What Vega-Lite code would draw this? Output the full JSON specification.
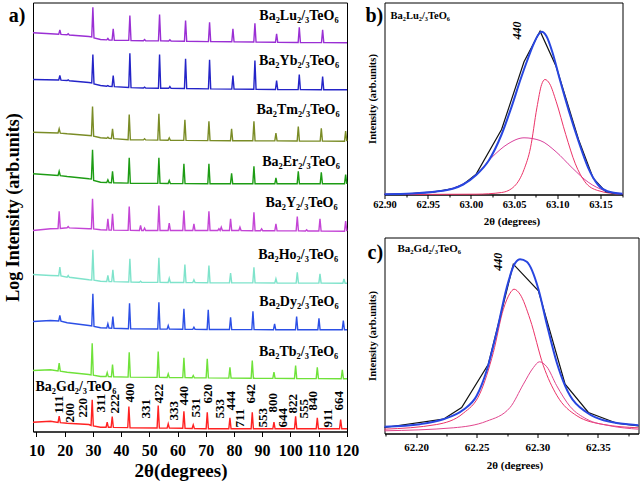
{
"$schema": "https://vega.github.io/schema/vega-lite/v6.json",
"padding": {"left": 4, "top": 1.5, "right": 2, "bottom": 2},
"bounds": "flush",
"spacing": 37.5,
"config": {
 "font": "Liberation Serif",
 "view": {"stroke": "#000", "strokeWidth": 1},
 "axis": {"labelFont": "Liberation Serif", "titleFont": "Liberation Serif", "labelFontWeight": "bold", "titleFontWeight": "bold", "labelColor": "#000", "titleColor": "#000", "domainColor": "#000", "tickColor": "#000", "grid": false, "labelOverlap": false, "labelFlush": false, "labelBound": false},
 "text": {"font": "Liberation Serif", "fontWeight": "bold", "color": "#000"}
},
"datasets": {
 "xrd": [
  {"s":"Lu","x":8.76,"y":398.7},{"s":"Lu","x":14.97,"y":397.7},{"s":"Lu","x":17.88,"y":397.2},{"s":"Lu","x":18.28,"y":401.7},{"s":"Lu","x":18.68,"y":397.1},{"s":"Lu","x":20.84,"y":396.7},{"s":"Lu","x":21.24,"y":397.7},{"s":"Lu","x":21.64,"y":396.5},{"s":"Lu","x":28.57,"y":395},{"s":"Lu","x":29.59,"y":394.5},{"s":"Lu","x":29.99,"y":424.3},{"s":"Lu","x":30.39,"y":393.5},{"s":"Lu","x":32.71,"y":392},{"s":"Lu","x":34.91,"y":391.6},{"s":"Lu","x":35.31,"y":393},{"s":"Lu","x":35.71,"y":391.5},{"s":"Lu","x":36.8,"y":391.4},{"s":"Lu","x":37.2,"y":402.7},{"s":"Lu","x":37.6,"y":391.3},{"s":"Lu","x":42.71,"y":391.1},{"s":"Lu","x":43.11,"y":416},{"s":"Lu","x":43.51,"y":391},{"s":"Lu","x":47.92,"y":390.8},{"s":"Lu","x":48.32,"y":392},{"s":"Lu","x":48.72,"y":390.8},{"s":"Lu","x":53.24,"y":390.6},{"s":"Lu","x":53.64,"y":417},{"s":"Lu","x":54.04,"y":390.6},{"s":"Lu","x":56.9,"y":390.5},{"s":"Lu","x":57.3,"y":391.7},{"s":"Lu","x":57.7,"y":390.5},{"s":"Lu","x":62.46,"y":390.2},{"s":"Lu","x":62.86,"y":411},{"s":"Lu","x":63.26,"y":390.2},{"s":"Lu","x":70.97,"y":389.9},{"s":"Lu","x":71.37,"y":409.3},{"s":"Lu","x":71.77,"y":389.9},{"s":"Lu","x":79.25,"y":389.7},{"s":"Lu","x":79.65,"y":402.7},{"s":"Lu","x":80.05,"y":389.7},{"s":"Lu","x":87.05,"y":389.5},{"s":"Lu","x":87.45,"y":408.3},{"s":"Lu","x":87.85,"y":389.5},{"s":"Lu","x":94.74,"y":389.2},{"s":"Lu","x":95.14,"y":397.7},{"s":"Lu","x":95.54,"y":389.2},{"s":"Lu","x":102.78,"y":389},{"s":"Lu","x":103.18,"y":404.3},{"s":"Lu","x":103.58,"y":389},{"s":"Lu","x":111.06,"y":388.9},{"s":"Lu","x":111.46,"y":401.7},{"s":"Lu","x":111.86,"y":388.9},{"s":"Lu","x":120.1,"y":388.7},
  {"s":"Yb","x":8.76,"y":352},{"s":"Yb","x":17.88,"y":351.5},{"s":"Yb","x":18.28,"y":356},{"s":"Yb","x":18.68,"y":351.4},{"s":"Yb","x":20.84,"y":351},{"s":"Yb","x":21.24,"y":351.7},{"s":"Yb","x":21.64,"y":350.8},{"s":"Yb","x":28.57,"y":349},{"s":"Yb","x":29.59,"y":348.5},{"s":"Yb","x":29.99,"y":377},{"s":"Yb","x":30.39,"y":347.5},{"s":"Yb","x":32.71,"y":346},{"s":"Yb","x":34.91,"y":345.3},{"s":"Yb","x":35.31,"y":346},{"s":"Yb","x":35.71,"y":345.1},{"s":"Yb","x":36.8,"y":345},{"s":"Yb","x":37.2,"y":356},{"s":"Yb","x":37.6,"y":344.9},{"s":"Yb","x":42.71,"y":344},{"s":"Yb","x":43.11,"y":378.3},{"s":"Yb","x":43.51,"y":343.9},{"s":"Yb","x":47.92,"y":343.5},{"s":"Yb","x":48.32,"y":344.3},{"s":"Yb","x":48.72,"y":343.5},{"s":"Yb","x":53.24,"y":343.3},{"s":"Yb","x":53.64,"y":377},{"s":"Yb","x":54.04,"y":343.3},{"s":"Yb","x":56.9,"y":343.2},{"s":"Yb","x":57.3,"y":345},{"s":"Yb","x":57.7,"y":343.2},{"s":"Yb","x":62.46,"y":343},{"s":"Yb","x":62.86,"y":372.7},{"s":"Yb","x":63.26,"y":343},{"s":"Yb","x":70.97,"y":342.6},{"s":"Yb","x":71.37,"y":371.7},{"s":"Yb","x":71.77,"y":342.6},{"s":"Yb","x":79.25,"y":342.4},{"s":"Yb","x":79.65,"y":356},{"s":"Yb","x":80.05,"y":342.4},{"s":"Yb","x":87.05,"y":342.2},{"s":"Yb","x":87.45,"y":371},{"s":"Yb","x":87.85,"y":342.2},{"s":"Yb","x":94.74,"y":342},{"s":"Yb","x":95.14,"y":351},{"s":"Yb","x":95.54,"y":342},{"s":"Yb","x":102.78,"y":341.9},{"s":"Yb","x":103.18,"y":357},{"s":"Yb","x":103.58,"y":341.9},{"s":"Yb","x":111.06,"y":341.8},{"s":"Yb","x":111.46,"y":355},{"s":"Yb","x":111.86,"y":341.8},{"s":"Yb","x":120.1,"y":341.7},
  {"s":"Tm","x":8.76,"y":299.3},{"s":"Tm","x":17.64,"y":298.5},{"s":"Tm","x":18.04,"y":302.7},{"s":"Tm","x":18.44,"y":298.4},{"s":"Tm","x":20.88,"y":297.7},{"s":"Tm","x":28.57,"y":296},{"s":"Tm","x":29.47,"y":295.7},{"s":"Tm","x":29.87,"y":325},{"s":"Tm","x":30.27,"y":295.3},{"s":"Tm","x":32.71,"y":293.7},{"s":"Tm","x":34.91,"y":293.3},{"s":"Tm","x":35.31,"y":294.3},{"s":"Tm","x":35.71,"y":293.2},{"s":"Tm","x":36.56,"y":293},{"s":"Tm","x":36.96,"y":302.7},{"s":"Tm","x":37.36,"y":292.9},{"s":"Tm","x":42.48,"y":291.8},{"s":"Tm","x":42.88,"y":317},{"s":"Tm","x":43.28,"y":291.8},{"s":"Tm","x":47.92,"y":291.6},{"s":"Tm","x":48.32,"y":292.7},{"s":"Tm","x":48.72,"y":291.6},{"s":"Tm","x":53.0,"y":291.4},{"s":"Tm","x":53.4,"y":317.7},{"s":"Tm","x":53.8,"y":291.4},{"s":"Tm","x":56.67,"y":291.3},{"s":"Tm","x":57.07,"y":293.7},{"s":"Tm","x":57.47,"y":291.3},{"s":"Tm","x":62.22,"y":291.1},{"s":"Tm","x":62.62,"y":311.7},{"s":"Tm","x":63.02,"y":291.1},{"s":"Tm","x":70.74,"y":290.9},{"s":"Tm","x":71.14,"y":310.3},{"s":"Tm","x":71.54,"y":290.9},{"s":"Tm","x":78.78,"y":290.8},{"s":"Tm","x":79.18,"y":302.7},{"s":"Tm","x":79.58,"y":290.8},{"s":"Tm","x":86.7,"y":290.7},{"s":"Tm","x":87.1,"y":310.3},{"s":"Tm","x":87.5,"y":290.7},{"s":"Tm","x":94.5,"y":290.6},{"s":"Tm","x":94.9,"y":298.3},{"s":"Tm","x":95.3,"y":290.6},{"s":"Tm","x":102.43,"y":290.5},{"s":"Tm","x":102.83,"y":305},{"s":"Tm","x":103.23,"y":290.5},{"s":"Tm","x":110.59,"y":290.4},{"s":"Tm","x":110.99,"y":303.3},{"s":"Tm","x":111.39,"y":290.4},{"s":"Tm","x":119.22,"y":290.3},{"s":"Tm","x":119.62,"y":300.3},{"s":"Tm","x":120.02,"y":290.3},
  {"s":"Er","x":8.76,"y":257.7},{"s":"Er","x":17.64,"y":256},{"s":"Er","x":18.04,"y":260.3},{"s":"Er","x":18.44,"y":255.9},{"s":"Er","x":20.88,"y":255},{"s":"Er","x":28.57,"y":252.7},{"s":"Er","x":29.47,"y":252.5},{"s":"Er","x":29.87,"y":281.7},{"s":"Er","x":30.27,"y":251},{"s":"Er","x":32.71,"y":249.3},{"s":"Er","x":34.91,"y":249},{"s":"Er","x":35.31,"y":251.7},{"s":"Er","x":35.71,"y":248.9},{"s":"Er","x":36.56,"y":248.8},{"s":"Er","x":36.96,"y":260.3},{"s":"Er","x":37.36,"y":248.7},{"s":"Er","x":42.48,"y":248.4},{"s":"Er","x":42.88,"y":273.7},{"s":"Er","x":43.28,"y":248.3},{"s":"Er","x":53.0,"y":248.1},{"s":"Er","x":53.4,"y":273.7},{"s":"Er","x":53.8,"y":248.1},{"s":"Er","x":56.67,"y":248},{"s":"Er","x":57.07,"y":251},{"s":"Er","x":57.47,"y":248},{"s":"Er","x":61.87,"y":247.9},{"s":"Er","x":62.27,"y":267.7},{"s":"Er","x":62.67,"y":247.9},{"s":"Er","x":70.74,"y":247.7},{"s":"Er","x":71.14,"y":267.7},{"s":"Er","x":71.54,"y":247.7},{"s":"Er","x":78.78,"y":247.7},{"s":"Er","x":79.18,"y":258.3},{"s":"Er","x":79.58,"y":247.7},{"s":"Er","x":86.7,"y":247.7},{"s":"Er","x":87.1,"y":265.3},{"s":"Er","x":87.5,"y":247.7},{"s":"Er","x":94.5,"y":247.7},{"s":"Er","x":94.9,"y":253.7},{"s":"Er","x":95.3,"y":247.7},{"s":"Er","x":102.43,"y":247.7},{"s":"Er","x":102.83,"y":260.3},{"s":"Er","x":103.23,"y":247.7},{"s":"Er","x":110.59,"y":247.7},{"s":"Er","x":110.99,"y":259.3},{"s":"Er","x":111.39,"y":247.7},{"s":"Er","x":119.22,"y":247.7},{"s":"Er","x":119.62,"y":257},{"s":"Er","x":120.02,"y":247.7},
  {"s":"Y","x":8.76,"y":201},{"s":"Y","x":14.97,"y":202.7},{"s":"Y","x":17.64,"y":203},{"s":"Y","x":18.04,"y":220.3},{"s":"Y","x":18.44,"y":203.1},{"s":"Y","x":20.84,"y":203.7},{"s":"Y","x":21.24,"y":205},{"s":"Y","x":21.64,"y":203.6},{"s":"Y","x":28.57,"y":202.7},{"s":"Y","x":29.47,"y":202.7},{"s":"Y","x":29.87,"y":232.7},{"s":"Y","x":30.27,"y":202.6},{"s":"Y","x":32.71,"y":201.7},{"s":"Y","x":34.91,"y":201.5},{"s":"Y","x":35.31,"y":212.7},{"s":"Y","x":35.71,"y":201.5},{"s":"Y","x":36.56,"y":201.4},{"s":"Y","x":36.96,"y":217.7},{"s":"Y","x":37.36,"y":201.4},{"s":"Y","x":42.48,"y":201.1},{"s":"Y","x":42.88,"y":225},{"s":"Y","x":43.28,"y":201.1},{"s":"Y","x":46.5,"y":201},{"s":"Y","x":46.9,"y":206},{"s":"Y","x":47.3,"y":201},{"s":"Y","x":47.92,"y":201},{"s":"Y","x":48.32,"y":203.3},{"s":"Y","x":48.72,"y":201},{"s":"Y","x":53.0,"y":201},{"s":"Y","x":53.4,"y":226},{"s":"Y","x":53.8,"y":201},{"s":"Y","x":56.67,"y":201},{"s":"Y","x":57.07,"y":208.3},{"s":"Y","x":57.47,"y":201},{"s":"Y","x":61.87,"y":201},{"s":"Y","x":62.27,"y":221},{"s":"Y","x":62.67,"y":201},{"s":"Y","x":65.42,"y":201},{"s":"Y","x":65.82,"y":207.7},{"s":"Y","x":66.22,"y":201},{"s":"Y","x":70.74,"y":201},{"s":"Y","x":71.14,"y":220.3},{"s":"Y","x":71.54,"y":201},{"s":"Y","x":74.29,"y":201},{"s":"Y","x":74.69,"y":202.7},{"s":"Y","x":75.1,"y":201},{"s":"Y","x":75.52,"y":204.3},{"s":"Y","x":75.92,"y":201},{"s":"Y","x":78.42,"y":201},{"s":"Y","x":78.82,"y":212.7},{"s":"Y","x":79.22,"y":201},{"s":"Y","x":81.74,"y":201},{"s":"Y","x":82.14,"y":204.3},{"s":"Y","x":82.54,"y":201},{"s":"Y","x":86.7,"y":200.8},{"s":"Y","x":87.1,"y":219.3},{"s":"Y","x":87.5,"y":200.8},{"s":"Y","x":89.42,"y":200.8},{"s":"Y","x":89.82,"y":202.7},{"s":"Y","x":90.22,"y":200.8},{"s":"Y","x":94.5,"y":200.7},{"s":"Y","x":94.9,"y":207.7},{"s":"Y","x":95.3,"y":200.7},{"s":"Y","x":102.07,"y":200.6},{"s":"Y","x":102.47,"y":215},{"s":"Y","x":102.87,"y":200.6},{"s":"Y","x":105.39,"y":200.5},{"s":"Y","x":105.79,"y":201.7},{"s":"Y","x":106.19,"y":200.5},{"s":"Y","x":110.12,"y":200.5},{"s":"Y","x":110.52,"y":212.7},{"s":"Y","x":110.92,"y":200.5},{"s":"Y","x":119.22,"y":200.3},{"s":"Y","x":119.62,"y":210.3},{"s":"Y","x":120.02,"y":200.3},
  {"s":"Ho","x":8.76,"y":157},{"s":"Ho","x":14.97,"y":156},{"s":"Ho","x":17.88,"y":155.7},{"s":"Ho","x":18.28,"y":164.3},{"s":"Ho","x":18.68,"y":155.6},{"s":"Ho","x":20.84,"y":154.3},{"s":"Ho","x":21.24,"y":156},{"s":"Ho","x":21.64,"y":154.2},{"s":"Ho","x":28.57,"y":151.7},{"s":"Ho","x":29.59,"y":151.5},{"s":"Ho","x":29.99,"y":181.7},{"s":"Ho","x":30.39,"y":151.3},{"s":"Ho","x":32.71,"y":150.3},{"s":"Ho","x":34.91,"y":150},{"s":"Ho","x":35.31,"y":156},{"s":"Ho","x":35.71,"y":150},{"s":"Ho","x":36.68,"y":149.9},{"s":"Ho","x":37.08,"y":161.7},{"s":"Ho","x":37.48,"y":149.9},{"s":"Ho","x":42.71,"y":149.5},{"s":"Ho","x":43.11,"y":172.7},{"s":"Ho","x":43.51,"y":149.4},{"s":"Ho","x":46.5,"y":149.3},{"s":"Ho","x":46.9,"y":150.3},{"s":"Ho","x":47.3,"y":149.3},{"s":"Ho","x":53.0,"y":149.1},{"s":"Ho","x":53.4,"y":173.7},{"s":"Ho","x":53.8,"y":149.1},{"s":"Ho","x":56.67,"y":149},{"s":"Ho","x":57.07,"y":153.3},{"s":"Ho","x":57.47,"y":149},{"s":"Ho","x":62.22,"y":149},{"s":"Ho","x":62.62,"y":167},{"s":"Ho","x":63.02,"y":149},{"s":"Ho","x":65.42,"y":148.9},{"s":"Ho","x":65.82,"y":151.7},{"s":"Ho","x":66.22,"y":148.9},{"s":"Ho","x":70.74,"y":148.7},{"s":"Ho","x":71.14,"y":166},{"s":"Ho","x":71.54,"y":148.7},{"s":"Ho","x":78.42,"y":148.6},{"s":"Ho","x":78.82,"y":158.3},{"s":"Ho","x":79.22,"y":148.6},{"s":"Ho","x":86.7,"y":148.6},{"s":"Ho","x":87.1,"y":164.3},{"s":"Ho","x":87.5,"y":148.6},{"s":"Ho","x":94.5,"y":148.5},{"s":"Ho","x":94.9,"y":152.7},{"s":"Ho","x":95.3,"y":148.5},{"s":"Ho","x":102.07,"y":148.4},{"s":"Ho","x":102.47,"y":159.3},{"s":"Ho","x":102.87,"y":148.4},{"s":"Ho","x":110.12,"y":148.4},{"s":"Ho","x":110.52,"y":157.7},{"s":"Ho","x":110.92,"y":148.4},{"s":"Ho","x":118.63,"y":148.3},{"s":"Ho","x":119.03,"y":152.7},{"s":"Ho","x":119.43,"y":148.3},{"s":"Ho","x":120.1,"y":148.3},
  {"s":"Dy","x":8.76,"y":110},{"s":"Dy","x":14.97,"y":111},{"s":"Dy","x":17.88,"y":110.5},{"s":"Dy","x":18.28,"y":116},{"s":"Dy","x":18.68,"y":110.3},{"s":"Dy","x":20.88,"y":108.7},{"s":"Dy","x":28.57,"y":106},{"s":"Dy","x":29.59,"y":105.5},{"s":"Dy","x":29.99,"y":137.7},{"s":"Dy","x":30.39,"y":105},{"s":"Dy","x":32.71,"y":103.7},{"s":"Dy","x":34.91,"y":103.5},{"s":"Dy","x":35.31,"y":107.7},{"s":"Dy","x":35.71,"y":103.4},{"s":"Dy","x":36.68,"y":103.3},{"s":"Dy","x":37.08,"y":115},{"s":"Dy","x":37.48,"y":103.2},{"s":"Dy","x":42.59,"y":102.8},{"s":"Dy","x":42.99,"y":128.3},{"s":"Dy","x":43.39,"y":102.8},{"s":"Dy","x":53.0,"y":102.5},{"s":"Dy","x":53.4,"y":129.3},{"s":"Dy","x":53.8,"y":102.5},{"s":"Dy","x":56.31,"y":102.4},{"s":"Dy","x":56.71,"y":106},{"s":"Dy","x":57.11,"y":102.4},{"s":"Dy","x":61.87,"y":102.2},{"s":"Dy","x":62.27,"y":122.7},{"s":"Dy","x":62.67,"y":102.2},{"s":"Dy","x":65.42,"y":102.1},{"s":"Dy","x":65.82,"y":104.3},{"s":"Dy","x":66.22,"y":102.1},{"s":"Dy","x":70.5,"y":102},{"s":"Dy","x":70.9,"y":121.7},{"s":"Dy","x":71.3,"y":102},{"s":"Dy","x":78.42,"y":102},{"s":"Dy","x":78.82,"y":114.3},{"s":"Dy","x":79.22,"y":102},{"s":"Dy","x":86.35,"y":101.9},{"s":"Dy","x":86.75,"y":120.3},{"s":"Dy","x":87.15,"y":101.9},{"s":"Dy","x":94.03,"y":101.8},{"s":"Dy","x":94.43,"y":107.7},{"s":"Dy","x":94.83,"y":101.8},{"s":"Dy","x":101.84,"y":101.8},{"s":"Dy","x":102.24,"y":115},{"s":"Dy","x":102.64,"y":101.8},{"s":"Dy","x":109.76,"y":101.7},{"s":"Dy","x":110.16,"y":113.3},{"s":"Dy","x":110.56,"y":101.7},{"s":"Dy","x":118.4,"y":101.7},{"s":"Dy","x":118.8,"y":111},{"s":"Dy","x":119.2,"y":101.7},{"s":"Dy","x":120.1,"y":101.7},
  {"s":"Tb","x":8.76,"y":61},{"s":"Tb","x":14.97,"y":61.7},{"s":"Tb","x":17.64,"y":60.5},{"s":"Tb","x":18.04,"y":68.3},{"s":"Tb","x":18.44,"y":60.3},{"s":"Tb","x":20.88,"y":59.3},{"s":"Tb","x":28.57,"y":57},{"s":"Tb","x":29.35,"y":56.5},{"s":"Tb","x":29.75,"y":88.3},{"s":"Tb","x":30.15,"y":56.3},{"s":"Tb","x":32.71,"y":55},{"s":"Tb","x":34.67,"y":55},{"s":"Tb","x":35.07,"y":59},{"s":"Tb","x":35.47,"y":54.9},{"s":"Tb","x":36.56,"y":54.8},{"s":"Tb","x":36.96,"y":67},{"s":"Tb","x":37.36,"y":54.7},{"s":"Tb","x":42.48,"y":54.4},{"s":"Tb","x":42.88,"y":79.3},{"s":"Tb","x":43.28,"y":54.4},{"s":"Tb","x":52.76,"y":54.1},{"s":"Tb","x":53.16,"y":80},{"s":"Tb","x":53.56,"y":54.1},{"s":"Tb","x":56.31,"y":54},{"s":"Tb","x":56.71,"y":57.7},{"s":"Tb","x":57.11,"y":54},{"s":"Tb","x":61.87,"y":53.9},{"s":"Tb","x":62.27,"y":73.7},{"s":"Tb","x":62.67,"y":53.9},{"s":"Tb","x":65.18,"y":53.8},{"s":"Tb","x":65.58,"y":56},{"s":"Tb","x":65.98,"y":53.8},{"s":"Tb","x":70.15,"y":53.6},{"s":"Tb","x":70.55,"y":72.7},{"s":"Tb","x":70.95,"y":53.6},{"s":"Tb","x":78.19,"y":53.4},{"s":"Tb","x":78.59,"y":64.3},{"s":"Tb","x":78.99,"y":53.4},{"s":"Tb","x":86.11,"y":53.3},{"s":"Tb","x":86.51,"y":71},{"s":"Tb","x":86.91,"y":53.3},{"s":"Tb","x":93.8,"y":53.1},{"s":"Tb","x":94.2,"y":59.3},{"s":"Tb","x":94.6,"y":53.1},{"s":"Tb","x":101.48,"y":53},{"s":"Tb","x":101.88,"y":66},{"s":"Tb","x":102.28,"y":53},{"s":"Tb","x":109.17,"y":52.9},{"s":"Tb","x":109.57,"y":64.3},{"s":"Tb","x":109.97,"y":52.9},{"s":"Tb","x":118.04,"y":52.7},{"s":"Tb","x":118.44,"y":61.7},{"s":"Tb","x":118.84,"y":52.7},{"s":"Tb","x":120.1,"y":52.7},
  {"s":"Gd","x":8.76,"y":9.3},{"s":"Gd","x":14.97,"y":10.3},{"s":"Gd","x":17.64,"y":9},{"s":"Gd","x":18.04,"y":15.3},{"s":"Gd","x":18.44,"y":8.9},{"s":"Gd","x":20.88,"y":8.3},{"s":"Gd","x":28.57,"y":7},{"s":"Gd","x":29.35,"y":6},{"s":"Gd","x":29.75,"y":31.7},{"s":"Gd","x":30.15,"y":5.5},{"s":"Gd","x":32.71,"y":4.3},{"s":"Gd","x":34.67,"y":4.3},{"s":"Gd","x":35.07,"y":9.3},{"s":"Gd","x":35.47,"y":4.2},{"s":"Gd","x":36.45,"y":4.2},{"s":"Gd","x":36.85,"y":15},{"s":"Gd","x":37.25,"y":4.1},{"s":"Gd","x":42.36,"y":3.9},{"s":"Gd","x":42.76,"y":25},{"s":"Gd","x":43.16,"y":3.8},{"s":"Gd","x":52.76,"y":3.5},{"s":"Gd","x":53.16,"y":26},{"s":"Gd","x":53.56,"y":3.5},{"s":"Gd","x":56.31,"y":3.4},{"s":"Gd","x":56.71,"y":7.7},{"s":"Gd","x":57.11,"y":3.4},{"s":"Gd","x":61.87,"y":3.2},{"s":"Gd","x":62.27,"y":20.3},{"s":"Gd","x":62.67,"y":3.1},{"s":"Gd","x":65.18,"y":3},{"s":"Gd","x":65.58,"y":6.7},{"s":"Gd","x":65.98,"y":3},{"s":"Gd","x":70.15,"y":2.8},{"s":"Gd","x":70.55,"y":19.3},{"s":"Gd","x":70.95,"y":2.8},{"s":"Gd","x":78.19,"y":2.7},{"s":"Gd","x":78.59,"y":13.7},{"s":"Gd","x":78.99,"y":2.7},{"s":"Gd","x":86.11,"y":2.7},{"s":"Gd","x":86.51,"y":19.3},{"s":"Gd","x":86.91,"y":2.7},{"s":"Gd","x":93.8,"y":2.7},{"s":"Gd","x":94.2,"y":9.3},{"s":"Gd","x":94.6,"y":2.7},{"s":"Gd","x":101.48,"y":2.7},{"s":"Gd","x":101.88,"y":15.3},{"s":"Gd","x":102.28,"y":2.7},{"s":"Gd","x":109.17,"y":2.7},{"s":"Gd","x":109.57,"y":13.7},{"s":"Gd","x":109.97,"y":2.7},{"s":"Gd","x":117.45,"y":2.7},{"s":"Gd","x":117.85,"y":12},{"s":"Gd","x":118.25,"y":2.7},{"s":"Gd","x":120.1,"y":2.7}
 ],
 "hkl": [
  {"t":"111","x":17.81,"y":18},{"t":"200","x":21.71,"y":9},{"t":"220","x":26.32,"y":14},{"t":"311","x":32.7,"y":19},{"t":"222","x":37.67,"y":18},{"t":"400","x":43.0,"y":29},{"t":"331","x":48.67,"y":13},{"t":"422","x":53.28,"y":28},{"t":"333","x":58.6,"y":11},{"t":"440","x":62.15,"y":26},{"t":"531","x":66.4,"y":14},{"t":"620","x":70.66,"y":28},{"t":"533","x":74.92,"y":13},{"t":"444","x":78.82,"y":21},{"t":"711","x":82.01,"y":4},{"t":"642","x":85.92,"y":28},{"t":"553","x":90.17,"y":4},{"t":"800","x":93.72,"y":19},{"t":"644","x":97.27,"y":4},{"t":"822","x":100.82,"y":18},{"t":"555","x":104.72,"y":13},{"t":"840","x":107.91,"y":21},{"t":"911","x":113.23,"y":4},{"t":"664","x":117.13,"y":21}
 ],
 "names": [
  {"t":"Ba₂Lu₂/₃TeO₆","x":117.13,"y":416},{"t":"Ba₂Yb₂/₃TeO₆","x":117.3,"y":371},{"t":"Ba₂Tm₂/₃TeO₆","x":117.5,"y":322},{"t":"Ba₂Er₂/₃TeO₆","x":117.6,"y":270},{"t":"Ba₂Y₂/₃TeO₆","x":116.8,"y":229},{"t":"Ba₂Ho₂/₃TeO₆","x":117.0,"y":177},{"t":"Ba₂Dy₂/₃TeO₆","x":117.13,"y":130},{"t":"Ba₂Tb₂/₃TeO₆","x":117.0,"y":80}
 ],
 "gdname": [{"t":"Ba₂Gd₂/₃TeO₆","x":9.65,"y":45}],
 "a_tag": [{"t":"a)","x":0.2,"y":410}],
 "b_tag": [{"t":"b)","x":62.878,"y":173}],
 "c_tag": [{"t":"c)","x":62.16,"y":175}],
 "b_broad": [{"x":62.9,"y":0.3},{"x":62.9501,"y":2},{"x":62.9687,"y":4},{"x":62.9873,"y":9},{"x":63.0058,"y":19.3},{"x":63.0244,"y":37.3},{"x":63.043,"y":50.7},{"x":63.0615,"y":56.7},{"x":63.0801,"y":54},{"x":63.0986,"y":42.7},{"x":63.1172,"y":26.7},{"x":63.1358,"y":12.3},{"x":63.1543,"y":4},{"x":63.1755,"y":0.7}],
 "b_narrow": [{"x":62.9,"y":0},{"x":63.0058,"y":0.3},{"x":63.0355,"y":2},{"x":63.0504,"y":8.3},{"x":63.0615,"y":25},{"x":63.069,"y":46.7},{"x":63.0764,"y":86.7},{"x":63.0819,"y":110},{"x":63.0857,"y":115},{"x":63.0912,"y":110.7},{"x":63.0986,"y":93.3},{"x":63.1098,"y":60},{"x":63.1209,"y":30.7},{"x":63.132,"y":12.7},{"x":63.1469,"y":4},{"x":63.1755,"y":0}],
 "b_black": [{"x":62.9,"y":0},{"x":62.9316,"y":1},{"x":62.9576,"y":2.7},{"x":62.9798,"y":6},{"x":62.991,"y":10},{"x":63.0058,"y":20},{"x":63.0355,"y":65},{"x":63.0615,"y":132.7},{"x":63.0801,"y":163.3},{"x":63.0986,"y":128.3},{"x":63.1246,"y":55},{"x":63.1413,"y":16.7},{"x":63.1562,"y":2.7},{"x":63.1755,"y":0}],
 "b_fit": [{"x":62.9,"y":0.3},{"x":62.9316,"y":1},{"x":62.9576,"y":2.7},{"x":62.9798,"y":6},{"x":62.991,"y":10},{"x":63.0058,"y":19.3},{"x":63.0207,"y":34},{"x":63.0355,"y":60},{"x":63.0467,"y":86.7},{"x":63.0578,"y":116},{"x":63.0652,"y":134},{"x":63.0727,"y":150.7},{"x":63.0782,"y":160},{"x":63.0819,"y":162.7},{"x":63.0875,"y":158.3},{"x":63.0949,"y":140.7},{"x":63.1024,"y":116.7},{"x":63.1135,"y":83.3},{"x":63.1246,"y":53.3},{"x":63.1358,"y":26.7},{"x":63.1469,"y":10},{"x":63.158,"y":3.3},{"x":63.1755,"y":0.7}],
 "b_text": [{"t":"Ba₂Lu₂/₃TeO₆","x":62.907,"y":179}],
 "b_hkl": [{"t":"440","x":63.0537,"y":155}],
 "c_big": [{"x":62.174,"y":4.3},{"x":62.217,"y":9},{"x":62.239,"y":20.3},{"x":62.2528,"y":40.3},{"x":62.2637,"y":81},{"x":62.272,"y":124.3},{"x":62.2775,"y":140.3},{"x":62.2808,"y":144.3},{"x":62.2857,"y":139.3},{"x":62.294,"y":114.3},{"x":62.305,"y":67.7},{"x":62.316,"y":38.3},{"x":62.3326,"y":17.7},{"x":62.3546,"y":9},{"x":62.3834,"y":5.7}],
 "c_small": [{"x":62.174,"y":2.7},{"x":62.2307,"y":5.7},{"x":62.2582,"y":12.3},{"x":62.2775,"y":26},{"x":62.2885,"y":49.3},{"x":62.2968,"y":66},{"x":62.3017,"y":71.7},{"x":62.3078,"y":66.7},{"x":62.316,"y":47.7},{"x":62.327,"y":27},{"x":62.3408,"y":14.3},{"x":62.36,"y":7.7},{"x":62.3834,"y":4.3}],
 "c_black": [{"x":62.174,"y":6},{"x":62.2225,"y":14.3},{"x":62.2376,"y":26},{"x":62.2596,"y":69.3},{"x":62.2802,"y":169.3},{"x":62.3009,"y":142.7},{"x":62.3229,"y":49.3},{"x":62.3421,"y":21},{"x":62.3655,"y":10.3},{"x":62.3834,"y":7.7}],
 "c_fit": [{"x":62.174,"y":6.7},{"x":62.2032,"y":9.3},{"x":62.2225,"y":14.3},{"x":62.239,"y":23.7},{"x":62.25,"y":37.7},{"x":62.2582,"y":62.7},{"x":62.2664,"y":101},{"x":62.2748,"y":146},{"x":62.2802,"y":167},{"x":62.2857,"y":174.3},{"x":62.2913,"y":171.7},{"x":62.3009,"y":144.3},{"x":62.3078,"y":109.3},{"x":62.316,"y":71},{"x":62.3229,"y":47.7},{"x":62.327,"y":37.7},{"x":62.3408,"y":21},{"x":62.3546,"y":13.3},{"x":62.3834,"y":8.3}],
 "c_text": [{"t":"Ba₂Gd₂/₃TeO₆","x":62.1847,"y":185}],
 "c_hkl": [{"t":"440","x":62.2678,"y":162.7}]
},
"hconcat": [
 {
  "width": 314, "height": 429,
  "resolve": {"scale": {"x": "independent"}, "axis": {"x": "independent"}},
  "layer": [
   {"layer": [
    {"data": {"name": "xrd"}, "mark": {"type": "line", "strokeWidth": 1.4},
     "encoding": {
      "x": {"field": "x", "type": "quantitative", "scale": {"domain": [8.76, 120.1], "nice": false, "zero": false},
       "axis": {"values": [10,30,50,70,90,110], "labelOverlap": false, "tickSize": 5, "labelFontSize": 16, "labelPadding": 6, "title": "2θ(degrees)", "titleFontSize": 19, "titlePadding": 3, "titleX": 147.5}},
      "y": {"field": "y", "type": "quantitative", "scale": {"domain": [0, 429], "nice": false},
       "axis": {"title": "Log Intensity (arb.units)", "labels": false, "ticks": false, "domain": false, "titleFontSize": 18, "titlePadding": 10.5, "titleY": 204.5}},
      "color": {"field": "s", "type": "nominal", "legend": null,
       "scale": {"domain": ["Lu","Yb","Tm","Er","Y","Ho","Dy","Tb","Gd"], "range": ["#9a2fd4","#2424c8","#7a8c26","#1d9c14","#c445d6","#7fe3cb","#2b4fe6","#6fe23a","#ff2222"]}}
     }},
    {"data": {"name": "hkl"}, "mark": {"type": "text", "angle": 270, "align": "left", "baseline": "middle", "fontSize": 13},
     "encoding": {"x": {"field": "x", "type": "quantitative"}, "y": {"field": "y", "type": "quantitative"}, "text": {"field": "t"}}},
    {"data": {"name": "names"}, "mark": {"type": "text", "align": "right", "baseline": "middle", "fontSize": 14},
     "encoding": {"x": {"field": "x", "type": "quantitative"}, "y": {"field": "y", "type": "quantitative"}, "text": {"field": "t"}}},
    {"data": {"name": "gdname"}, "mark": {"type": "text", "align": "left", "baseline": "middle", "fontSize": 14},
     "encoding": {"x": {"field": "x", "type": "quantitative"}, "y": {"field": "y", "type": "quantitative"}, "text": {"field": "t"}}},
    {"data": {"name": "a_tag"}, "mark": {"type": "text", "align": "left", "baseline": "alphabetic", "fontSize": 20},
     "encoding": {"x": {"field": "x", "type": "quantitative"}, "y": {"field": "y", "type": "quantitative"}, "text": {"field": "t"}}}
   ]},
   {"data": {"name": "hkl"}, "transform": [{"filter": "false"}], "mark": {"type": "point"},
    "encoding": {"x": {"field": "x", "type": "quantitative", "scale": {"domain": [8.76, 120.1], "nice": false, "zero": false},
     "axis": {"orient": "bottom", "values": [20,40,60,80,100,120], "labelOverlap": false, "tickSize": 5, "labelFontSize": 16, "labelPadding": 6, "domain": false, "title": null}}}}
  ]
 },
 {
  "vconcat": [
   {
    "width": 238, "height": 192,
    "resolve": {"scale": {"x": "independent"}, "axis": {"x": "independent"}},
    "layer": [
     {"layer": [
      {"data": {"name": "b_broad"}, "mark": {"type": "line", "interpolate": "monotone", "color": "#d9409c", "strokeWidth": 1},
       "encoding": {
        "x": {"field": "x", "type": "quantitative", "scale": {"domain": [62.9, 63.1755], "nice": false, "zero": false},
         "axis": {"values": [62.9,62.95,63.0,63.05,63.1,63.15], "format": ".2f", "labelOverlap": false, "tickSize": 4, "labelFontSize": 10.5, "labelPadding": 1, "title": "2θ (degrees)", "titleFontSize": 11, "titlePadding": 5, "titleX": 127}},
        "y": {"field": "y", "type": "quantitative", "scale": {"domain": [0, 192], "nice": false},
         "axis": {"title": "Intensity (arb.units)", "labels": false, "ticks": false, "domain": false, "titleFontSize": 10.5, "titlePadding": 7}}
       }},
      {"data": {"name": "b_narrow"}, "mark": {"type": "line", "interpolate": "monotone", "color": "#ec3468", "strokeWidth": 1},
       "encoding": {"x": {"field": "x", "type": "quantitative"}, "y": {"field": "y", "type": "quantitative"}}},
      {"data": {"name": "b_black"}, "mark": {"type": "line", "color": "#111111", "strokeWidth": 1.2},
       "encoding": {"x": {"field": "x", "type": "quantitative"}, "y": {"field": "y", "type": "quantitative"}}},
      {"data": {"name": "b_fit"}, "mark": {"type": "line", "interpolate": "monotone", "color": "#2846e0", "strokeWidth": 2},
       "encoding": {"x": {"field": "x", "type": "quantitative"}, "y": {"field": "y", "type": "quantitative"}}},
      {"data": {"name": "b_text"}, "mark": {"type": "text", "align": "left", "baseline": "middle", "fontSize": 10.5},
       "encoding": {"x": {"field": "x", "type": "quantitative"}, "y": {"field": "y", "type": "quantitative"}, "text": {"field": "t"}}},
      {"data": {"name": "b_hkl"}, "mark": {"type": "text", "angle": 270, "align": "left", "baseline": "middle", "fontSize": 12, "fontStyle": "italic"},
       "encoding": {"x": {"field": "x", "type": "quantitative"}, "y": {"field": "y", "type": "quantitative"}, "text": {"field": "t"}}},
      {"data": {"name": "b_tag"}, "mark": {"type": "text", "align": "left", "baseline": "alphabetic", "fontSize": 20},
       "encoding": {"x": {"field": "x", "type": "quantitative"}, "y": {"field": "y", "type": "quantitative"}, "text": {"field": "t"}}}
     ]},
     {"data": {"name": "b_hkl"}, "transform": [{"filter": "false"}], "mark": {"type": "point"},
      "encoding": {"x": {"field": "x", "type": "quantitative", "scale": {"domain": [62.9, 63.1755], "nice": false, "zero": false},
       "axis": {"orient": "bottom", "values": [62.925,62.975,63.025,63.075,63.125,63.175], "labels": false, "tickSize": 2.5, "domain": false, "title": null}}}}
    ]
   },
   {
    "width": 254, "height": 196,
    "resolve": {"scale": {"x": "independent"}, "axis": {"x": "independent"}},
    "layer": [
     {"layer": [
      {"data": {"name": "c_big"}, "mark": {"type": "line", "interpolate": "monotone", "color": "#ec3468", "strokeWidth": 1},
       "encoding": {
        "x": {"field": "x", "type": "quantitative", "scale": {"domain": [62.174, 62.3834], "nice": false, "zero": false},
         "axis": {"values": [62.2,62.25,62.3,62.35], "format": ".2f", "labelOverlap": false, "tickSize": 4, "labelFontSize": 11, "labelPadding": 4, "title": "2θ (degrees)", "titleFontSize": 11, "titlePadding": 7, "titleX": 130}},
        "y": {"field": "y", "type": "quantitative", "scale": {"domain": [0, 196], "nice": false},
         "axis": {"title": "Intensity (arb.units)", "labels": false, "ticks": false, "domain": false, "titleFontSize": 10.5, "titlePadding": 7}}
       }},
      {"data": {"name": "c_small"}, "mark": {"type": "line", "interpolate": "monotone", "color": "#e2468e", "strokeWidth": 1},
       "encoding": {"x": {"field": "x", "type": "quantitative"}, "y": {"field": "y", "type": "quantitative"}}},
      {"data": {"name": "c_black"}, "mark": {"type": "line", "color": "#111111", "strokeWidth": 1.2},
       "encoding": {"x": {"field": "x", "type": "quantitative"}, "y": {"field": "y", "type": "quantitative"}}},
      {"data": {"name": "c_fit"}, "mark": {"type": "line", "interpolate": "monotone", "color": "#2846e0", "strokeWidth": 2},
       "encoding": {"x": {"field": "x", "type": "quantitative"}, "y": {"field": "y", "type": "quantitative"}}},
      {"data": {"name": "c_text"}, "mark": {"type": "text", "align": "left", "baseline": "middle", "fontSize": 11},
       "encoding": {"x": {"field": "x", "type": "quantitative"}, "y": {"field": "y", "type": "quantitative"}, "text": {"field": "t"}}},
      {"data": {"name": "c_hkl"}, "mark": {"type": "text", "angle": 270, "align": "left", "baseline": "middle", "fontSize": 12, "fontStyle": "italic"},
       "encoding": {"x": {"field": "x", "type": "quantitative"}, "y": {"field": "y", "type": "quantitative"}, "text": {"field": "t"}}},
      {"data": {"name": "c_tag"}, "mark": {"type": "text", "align": "left", "baseline": "alphabetic", "fontSize": 20},
       "encoding": {"x": {"field": "x", "type": "quantitative"}, "y": {"field": "y", "type": "quantitative"}, "text": {"field": "t"}}}
     ]},
     {"data": {"name": "c_hkl"}, "transform": [{"filter": "false"}], "mark": {"type": "point"},
      "encoding": {"x": {"field": "x", "type": "quantitative", "scale": {"domain": [62.174, 62.3834], "nice": false, "zero": false},
       "axis": {"orient": "bottom", "values": [62.175,62.225,62.275,62.325,62.375], "labels": false, "tickSize": 2.5, "domain": false, "title": null}}}}
    ]
   }
  ],
  "spacing": 43,
  "bounds": "flush"
 }
]
}
